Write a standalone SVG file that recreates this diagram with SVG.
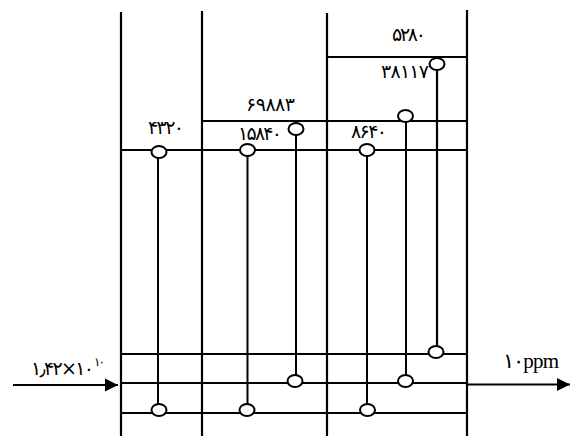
<svg xmlns="http://www.w3.org/2000/svg" width="570" height="436" viewBox="0 0 570 436">
<style>
.b{stroke:#000;stroke-width:2.200;fill:none}
.t{stroke:#000;stroke-width:2;fill:none}
.c{stroke:#000;stroke-width:2;fill:#fff}
text{font-family:"DejaVu Sans ExtraLight","DejaVu Sans",sans-serif;font-size:19px;fill:#000;direction:ltr;unicode-bidi:bidi-override}
.l{font-family:"Liberation Serif",serif;font-size:21px}
.s{font-size:12px}
</style>
<defs><marker id="a" markerUnits="userSpaceOnUse" markerWidth="14" markerHeight="14" refX="13" refY="7" orient="auto"><path d="M0 0.500L13 7L0 13.500Z" fill="#000"/></marker></defs>
<g id="connectors">
<path class="b" d="M121 12V436M202 11V436M327 13V436M467 10V436"/>
<path class="t" d="M121 150H468M202 121H468M327 57H468M121 354H468M121 383H468M121 413H468"/>
<path class="t" d="M158 152V410M247.500 150V410M296 129V381M367 150V410M406 116V381"/>
<path class="b" d="M437 64V352"/>
<path class="b" d="M13 385H118" marker-end="url(#a)"/>
<path class="t" d="M467 384.500H570" marker-end="url(#a)"/>
</g>
<g id="n1"><ellipse class="c" cx="159" cy="152" rx="7.500" ry="6"/><text x="148" y="134" textLength="36">۴۳۲۰</text></g>
<g id="n2"><ellipse class="c" cx="247.500" cy="150" rx="7.500" ry="6"/><text x="238" y="140" textLength="44">۱۵۸۴۰</text></g>
<g id="n3"><ellipse class="c" cx="296" cy="129" rx="7.500" ry="6"/><text x="246" y="111" textLength="49">۶۹۸۸۳</text></g>
<g id="n4"><ellipse class="c" cx="367" cy="150" rx="7.500" ry="6"/><text x="351" y="138" textLength="36">۸۶۴۰</text></g>
<g id="n5"><ellipse class="c" cx="405.500" cy="116" rx="7.500" ry="6"/></g>
<g id="n6"><ellipse class="c" cx="437" cy="64" rx="7.500" ry="6"/><text x="381" y="78" textLength="48">۳۸۱۱۷</text></g>
<g id="n7"><text x="392" y="41" textLength="34">۵۲۸۰</text></g>
<g id="n8"><ellipse class="c" cx="159" cy="410" rx="7.500" ry="6"/></g>
<g id="n9"><ellipse class="c" cx="247" cy="410" rx="7.500" ry="6"/></g>
<g id="n10"><ellipse class="c" cx="367.500" cy="410" rx="7.500" ry="6"/></g>
<g id="n11"><ellipse class="c" cx="295" cy="381" rx="7.500" ry="6"/></g>
<g id="n12"><ellipse class="c" cx="405.500" cy="381" rx="7.500" ry="6"/></g>
<g id="n13"><ellipse class="c" cx="436" cy="352" rx="7.500" ry="6"/></g>
<g id="in"><text x="31" y="375" textLength="63">۱٫۴۲×۱۰</text><text class="s" x="94" y="366" textLength="11">۱۰</text></g>
<g id="out"><text class="l" x="503" y="367.500" textLength="56">۱۰ppm</text></g>
</svg>
